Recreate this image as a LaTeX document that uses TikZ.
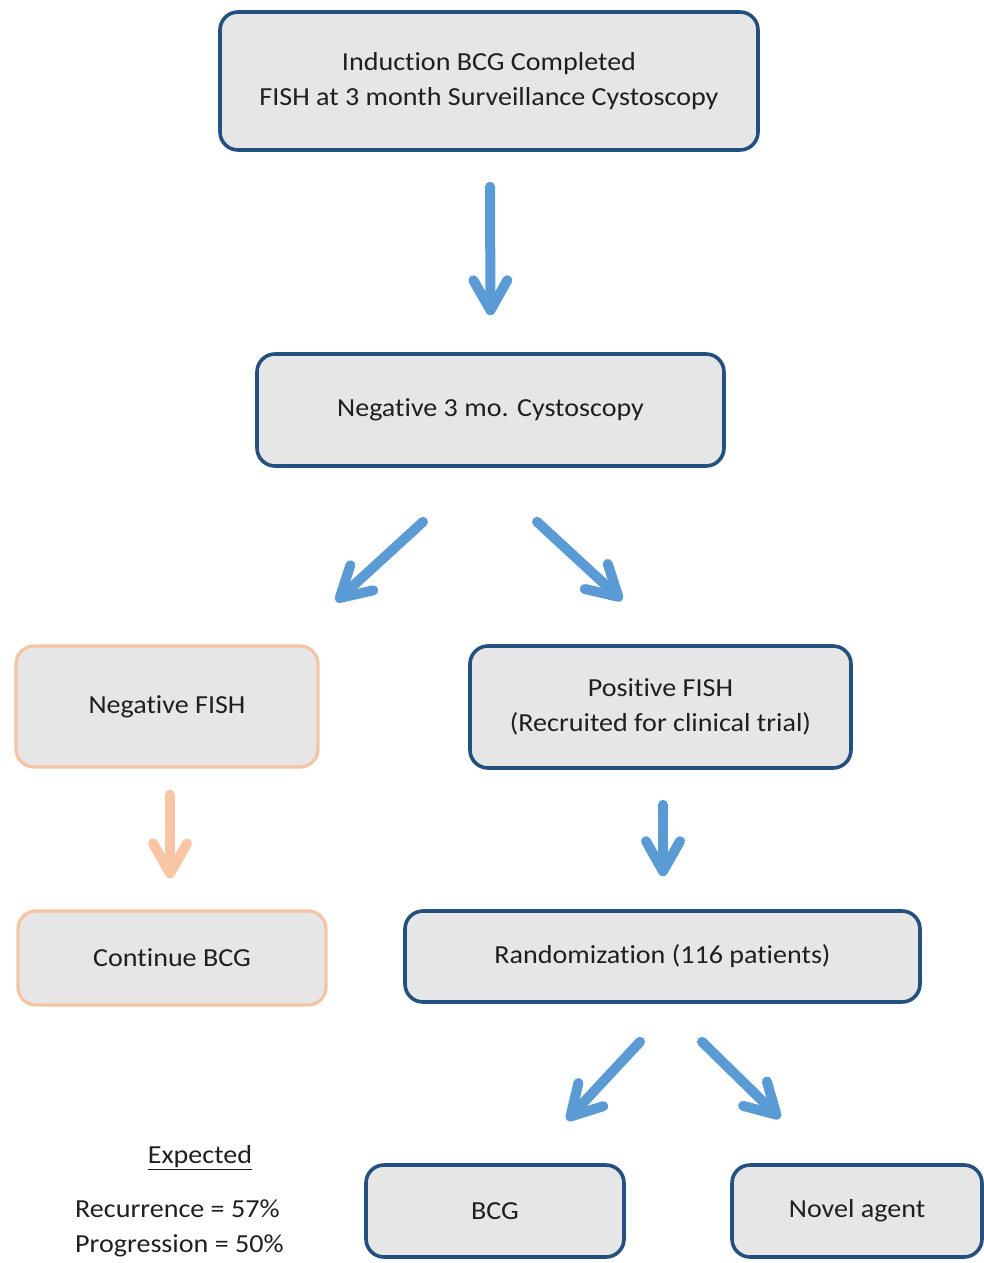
\documentclass[tikz,border=0pt]{standalone}
\usepackage{fontspec}
\setmainfont{Carlito}[Ligatures=NoCommon, FakeStretch=1.08]
\usetikzlibrary{arrows.meta,calc}
\definecolor{boxblue}{HTML}{24507F}
\definecolor{boxorange}{HTML}{F6C4A2}
\definecolor{arrblue}{HTML}{5B9BD5}
\definecolor{arrorange}{HTML}{F8C6A4}
\definecolor{boxfill}{HTML}{E6E6E7}
\begin{document}
\begin{tikzpicture}[x=1pt,y=-1pt,
  box/.style={draw=boxblue, line width=3.6pt, fill=boxfill, rounded corners=18pt,
    inner sep=0pt, align=center, font=\fontsize{26}{35}\selectfont, text=black!88},
  obox/.style={box, draw=boxorange, line width=3.2pt},
  arr/.style={draw=arrblue, line width=10pt, line cap=round,
    -{Straight Barb[length=30pt, width=34pt, round]}},
  oarr/.style={arr, draw=arrorange},
  txt/.style={font=\fontsize{26}{35}\selectfont, text=black!88, inner sep=0pt}]
\useasboundingbox (0,0) rectangle (984,1263);
\node[box, minimum width=538pt, minimum height=138pt] (top) at (489,81)
  {Induction BCG Completed\\FISH at 3 month Surveillance Cystoscopy};
\node[box, minimum width=467pt, minimum height=112pt] (b2) at (490.5,410)
  {Negative 3 mo. Cystoscopy};
\node[obox, minimum width=302pt, minimum height=121pt] (nf) at (167,706.5)
  {Negative FISH};
\node[box, minimum width=381pt, minimum height=122pt] (pf) at (660.5,707)
  {Positive FISH\\(Recruited for clinical trial)};
\node[obox, minimum width=308pt, minimum height=94pt] (cb) at (172,958)
  {Continue BCG};
\node[box, minimum width=515pt, minimum height=91pt] (rz) at (662.5,956.5)
  {Randomization (116 patients)};
\node[box, minimum width=258pt, minimum height=92pt] (bcg) at (495,1211)
  {BCG};
\node[box, minimum width=250pt, minimum height=92pt] (na) at (857,1211)
  {Novel agent};
\node[txt] (exp) at (200,1158) {\underline{Expected}};
\node[txt, anchor=west, align=left] (res) at (75,1228.5)
  {Recurrence = 57\%\\Progression = 50\%};
\draw[arr] ($(top.south)+(1,35)$) -- ($(b2.north)+(0,-37)$);
\draw[arr] ($(b2.south)+(-67.5,54)$) -- ($(nf.north)+(169,-43)$);
\draw[arr] ($(b2.south)+(46.5,54)$) -- ($(pf.north)+(-38.5,-44)$);
\draw[oarr] ($(nf.south)+(3,26)$) -- ($(cb.north)+(-2,-31)$);
\draw[arr] ($(pf.south)+(2.5,35)$) -- ($(rz.north)+(0.5,-33)$);
\draw[arr] ($(rz.south)+(-22.5,38)$) -- ($(bcg.north)+(72,-43)$);
\draw[arr] ($(rz.south)+(39.5,38)$) -- ($(na.north)+(-77,-45)$);
\end{tikzpicture}
\end{document}
